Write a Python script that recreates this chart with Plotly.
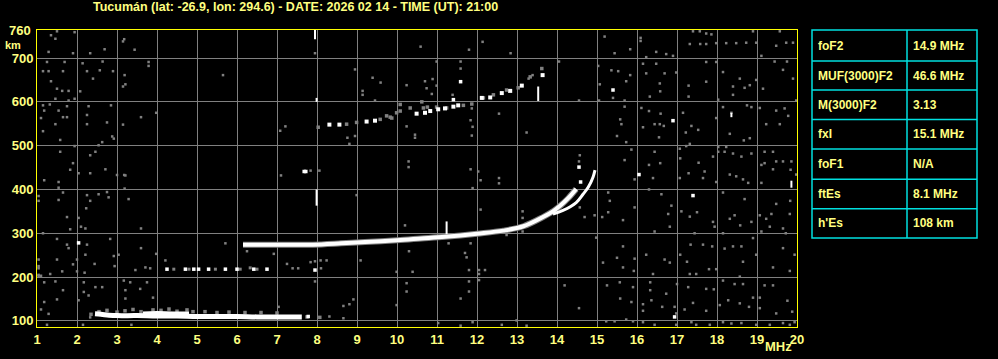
import plotly.graph_objects as go

# ---------------- data ----------------
title_text = "Tucumán (lat: -26.9, lon: 294.6) - DATE: 2026 02 14 - TIME (UT): 21:00"
x_ticks = list(range(1, 21))
y_ticks = [100, 200, 300, 400, 500, 600, 700]
y_top_label = "760"
table_labels = ["foF2", "MUF(3000)F2", "M(3000)F2", "fxI", "foF1", "ftEs", "h'Es"]
table_values = ["14.9 MHz", "46.6 MHz", "3.13", "15.1 MHz", "N/A", "8.1 MHz", "108 km"]

# Sporadic E trace (MHz, km)
es_x = [2.45, 2.6, 2.8, 3.0, 3.5, 4.0, 4.5, 5.0, 5.5, 6.0, 6.5, 7.0, 7.4, 7.62]
es_y = [116, 115, 113, 112, 112, 111, 111, 110, 110, 110, 109, 109, 109, 109]
es_up_x = [3.65, 4.0, 4.4, 4.8]
es_up_y = [118, 119, 118, 118]
es_fringe_x = [2.35, 2.55, 2.75, 3.0, 3.2, 3.4, 3.6, 3.9, 4.1, 4.3, 4.5, 4.75, 4.9, 5.2, 5.5, 5.8, 6.2, 6.6, 7.0, 7.75, 8.07]
es_fringe_y = [115, 121, 124, 120, 123, 126, 121, 125, 124, 127, 122, 125, 121, 121, 119, 120, 119, 119, 118, 109, 108]
es2_x = [4.25, 4.71, 4.92, 5.04, 5.29, 5.71, 6.0, 6.42, 6.75]
es2_y = [218, 218, 218, 218, 218, 218, 218, 218, 218]
es2_gray_x = [4.42, 4.8, 5.46, 6.08, 6.33, 6.5]
es2_gray_y = [218, 218, 218, 218, 221, 218]

# F2 trace (ordinary, upper branch) and extraordinary branch
f2o_x = [6.15, 6.6, 7.0, 7.5, 7.9, 8.6, 9.2, 10.0, 10.6, 11.2, 12.0, 12.66, 13.16, 13.65, 13.9, 14.07, 14.28, 14.48]
f2o_y = [274, 274, 274, 274, 274, 277, 280, 284, 288, 292, 299, 306, 316, 337, 350, 362, 380, 401]
f2x_x = [13.9, 14.15, 14.48, 14.65, 14.78, 14.9, 14.95]
f2x_y = [344, 352, 370, 389, 405, 428, 444]

# second hop F2 (2F)
f2b_white_x = [8.31, 8.56, 9.24, 9.45, 10.49, 10.7, 10.83, 11.03, 11.2, 11.41, 11.53, 12.12, 12.33, 12.62, 12.83, 13.12, 13.64]
f2b_white_y = [548, 548, 555, 557, 573, 575, 579, 583, 585, 589, 592, 609, 610, 620, 625, 637, 661]
f2b_gray_x = [8.03, 8.74, 8.99, 9.58, 9.74, 9.83, 9.87, 9.99, 10.08, 10.08, 10.33, 10.62, 10.66, 10.76, 10.99, 11.24, 11.66, 11.87, 12.16, 12.41, 12.74, 13.03, 13.33, 13.62]
f2b_gray_y = [542, 549, 553, 560, 568, 565, 563, 575, 579, 594, 586, 600, 586, 588, 588, 586, 592, 595, 609, 616, 627, 632, 657, 676]

# vertical white spikes: frequency, lower km, upper km
spike_x = [7.95, 7.99, 7.99, 11.24, 13.53, 19.86, 18.36]
spike_lo = [743, 600, 363, 298, 602, 404, 565]
spike_hi = [764, 609, 400, 327, 635, 420, 575]

# isolated white echoes
white_x = [2.04, 7.68, 7.72, 7.95, 11.41, 11.59, 15.4, 16.9, 16.05, 17.4, 16.94, 14.55, 14.59, 7.78]
white_y = [278, 441, 441, 216, 605, 646, 627, 557, 434, 386, 109, 451, 417, 110]

# gray background noise (MHz, km)
noise_x = [
    1.35, 1.5, 1.94, 1.46, 1.29, 1.9, 1.25, 1.69, 1.15, 1.29, 1.65, 2.14, 2.25, 2.64, 2.57, 2.9, 2.4, 1.35, 1.5, 1.63,
    1.79, 2.08, 1.46, 1.94, 1.79, 1.15, 1.32, 1.18, 1.54, 1.75, 2.29, 2.25, 1.65, 1.75, 1.1, 1.46, 1.15, 2.25, 2.75, 2.85,
    2.88, 2.92, 1.58, 2.63, 2.54, 1.94, 1.58, 2.33, 2.46, 1.9, 1.83, 2.04, 2.33, 2.71, 1.18, 1.54, 3.0, 3.18, 1.54, 1.65,
    2.25, 2.54, 2.75, 2.79, 1.04, 1.54, 1.04, 2.33, 3.29, 2.23, 1.75, 2.04, 1.83, 2.1, 2.21, 1.15, 1.5, 1.75, 1.79, 2.25,
    2.83, 3.04, 2.92, 2.21, 2.0, 1.5, 1.9, 2.0, 2.19, 2.44, 2.94, 1.33, 1.04, 1.04, 1.1, 1.63, 1.18, 1.46, 1.65, 2.17,
    2.17, 2.29, 2.46, 2.63, 2.04, 3.17, 3.21, 3.21, 3.33, 3.58, 3.75, 3.9, 1.18, 1.5, 1.1, 1.29, 2.33, 1.25, 2.15, 3.36,
    3.6, 3.71, 3.83, 3.98, 4.21, 3.6, 3.46, 3.18, 3.44, 2.69, 2.33, 3.15, 3.79, 3.79, 3.19, 3.15, 3.21, 3.6, 3.98, 3.15,
    7.08, 7.21, 7.1, 3.19, 3.21, 7.04, 6.92, 7.25, 6.25, 7.04, 5.65, 5.71, 1.04, 1.04, 1.04,
    7.95, 8.95, 9.39, 9.59, 9.14, 9.14, 9.45, 10.59, 10.99, 11.59, 11.59, 11.8, 12.14, 12.84, 10.24, 10.7, 10.89, 10.74,
    10.99, 10.87, 11.39, 11.87, 11.89, 11.87, 11.84, 12.55, 13.24, 10.24, 10.45, 10.45, 8.76, 8.95, 8.81, 13.29, 13.39,
    10.29, 10.29, 11.84, 12.03, 12.09, 12.55, 12.55, 11.89, 8.99, 12.09, 10.2, 13.14, 13.14, 13.14, 12.74, 11.29, 11.84,
    10.3, 9.09, 7.84, 7.95, 8.09, 8.24, 7.39, 7.53, 8.1, 9.99, 10.39, 11.7, 11.74, 11.8, 12.05, 12.2, 12.05, 12.05, 7.95,
    10.24, 10.24, 11.8, 11.8, 8.91, 8.81, 8.66, 9.99, 11.59, 8.31, 8.66, 11.03, 11.89, 12.99, 13.24, 12.62, 11.59, 8.06, 7.84,
    15.19, 15.44, 15.83, 16.09, 16.09, 16.48, 16.73, 16.9, 16.23, 17.4, 17.57, 17.73, 17.86, 17.32, 17.58, 17.73, 17.98,
    18.23, 18.48, 18.73, 18.9, 18.98, 19.11, 19.48, 19.57, 19.73, 19.9, 14.05, 15.03, 15.36, 15.53, 15.07, 15.4, 15.73,
    15.83, 16.15, 16.23, 16.48, 16.69, 16.57, 16.58, 16.32, 16.98, 17.29, 17.29, 17.73, 17.73, 17.98, 18.15, 18.4, 18.4,
    18.57, 18.69, 18.82, 18.98, 19.15, 19.44, 19.65, 19.75, 19.9, 19.98, 14.55, 15.05, 15.69, 15.69, 15.58, 15.61, 15.5,
    15.73, 16.11, 16.3, 16.15, 16.44, 16.57, 16.67, 16.55, 16.59, 17.15, 17.22, 17.36, 17.53, 17.32, 17.23, 18.03, 18.15,
    17.98, 18.36, 18.32, 18.75, 18.86, 19.07, 19.23, 19.48, 19.69, 19.78, 19.57, 18.67, 18.82, 18.03, 18.23, 14.57, 14.55,
    15.69, 15.86, 16.3, 16.44, 16.58, 17.07, 17.08, 17.29, 17.54, 17.69, 17.9, 18.03, 18.19, 18.4, 18.61, 18.86, 19.19,
    19.4, 19.48, 19.65, 19.86, 19.11, 19.19, 19.4, 19.84, 15.94, 16.4, 17.07, 17.65, 17.98, 18.32, 18.48, 18.65, 18.78,
    19.11, 19.98, 14.57, 14.69, 14.94, 15.13, 15.28, 15.28, 15.32, 15.65, 15.94, 16.3, 16.61, 16.78, 16.86, 17.11, 17.32,
    17.5, 17.9, 17.94, 18.15, 18.32, 18.44, 18.58, 18.86, 18.69, 19.07, 19.23, 19.36, 19.48, 19.83, 19.82, 19.72, 19.65,
    19.32, 19.11, 18.15, 17.44, 16.82, 16.44, 14.98, 15.65, 15.5, 15.15, 15.65, 15.92, 15.94, 16.23, 16.4, 16.69, 16.82,
    17.08, 17.25, 17.34, 17.65, 17.88, 18.19, 18.4, 18.61, 18.65, 18.57, 18.9, 18.98, 19.4, 19.82, 19.94, 19.65, 17.98,
    17.8, 17.32, 17.48, 14.19, 15.25, 15.57, 15.9, 16.33, 16.33, 16.73, 17.0, 17.28, 17.73, 17.92, 18.15, 18.44, 18.65,
    18.9, 19.19, 19.4, 19.07, 19.76, 19.88, 14.55, 15.58, 15.86, 16.15, 16.15, 16.36, 16.63, 16.94, 16.98, 17.19, 17.4,
    17.73, 18.07, 18.28, 18.57, 18.8, 19.07, 19.48, 15.23, 15.44, 15.73, 15.9, 16.15, 16.44, 16.98, 17.36, 17.48, 17.82,
    18.15, 18.36, 18.61, 18.98, 19.32, 19.65, 19.82, 19.94,
]
noise_y = [
    752, 761, 759, 744, 714, 711, 691, 691, 670, 670, 670, 688, 670, 692, 672, 670, 653, 647, 630, 625,
    625, 624, 607, 607, 603, 592, 594, 580, 580, 590, 590, 570, 565, 565, 563, 549, 533, 549, 553, 592,
    521, 516, 513, 508, 501, 499, 486, 478, 486, 460, 445, 437, 437, 446, 421, 417, 433, 433, 404, 393,
    387, 389, 394, 382, 385, 376, 374, 374, 378, 357, 337, 335, 309, 315, 311, 300, 287, 274, 266, 274,
    287, 251, 248, 251, 240, 240, 229, 213, 210, 230, 225, 207, 225, 203, 203, 213, 188, 190, 170, 188,
    166, 158, 177, 177, 147, 192, 170, 151, 188, 173, 188, 153, 143, 149, 126, 116, 108, 91, 91, 91,
    266, 222, 220, 253, 238, 311, 216, 743, 719, 720, 711, 738, 691, 682, 661, 635, 640, 565, 575, 548,
    534, 544, 432, 402, 432, 277, 253, 230, 259, 132, 661, 277, 240, 220, 205,
    711, 674, 655, 644, 625, 616, 603, 726, 692, 692, 676, 719, 737, 711, 638, 647, 652, 631,
    637, 618, 616, 585, 543, 523, 558, 573, 530, 544, 525, 518, 518, 522, 504, 653, 661,
    464, 451, 446, 441, 421, 426, 414, 403, 387, 354, 318, 350, 335, 304, 296, 277, 277,
    259, 238, 234, 236, 238, 238, 220, 220, 220, 212, 212, 255, 245, 216, 216, 216, 207, 193, 190,
    186, 167, 190, 167, 149, 138, 134, 136, 151, 110, 106, 95, 97, 101, 89, 91, 89, 443, 443,
    749, 711, 720, 746, 739, 714, 709, 705, 702, 761, 761, 756, 754, 732, 732, 732, 734,
    734, 734, 735, 761, 735, 705, 728, 761, 735, 735, 692, 682, 672, 670, 640, 609, 647,
    661, 687, 665, 687, 665, 642, 624, 612, 667, 637, 612, 691, 646, 691, 668, 635, 616,
    653, 632, 638, 650, 630, 692, 673, 692, 653, 603, 603, 603, 603, 589, 560, 549, 522,
    508, 586, 579, 542, 549, 549, 545, 519, 573, 575, 530, 545, 536, 504, 499, 605, 588,
    563, 575, 527, 592, 588, 586, 549, 580, 585, 568, 549, 512, 517, 497, 497, 478, 464,
    467, 491, 456, 486, 460, 493, 471, 437, 461, 441, 475, 486, 486, 482, 475, 482, 486,
    446, 464, 464, 464, 456, 460, 486, 445, 423, 426, 426, 426, 417, 434, 430, 423, 415,
    415, 434, 359, 337, 341, 337, 348, 393, 374, 330, 359, 400, 389, 344, 363, 350, 338,
    348, 326, 315, 393, 333, 341, 318, 326, 378, 341, 333, 344, 367, 374, 344, 300, 311,
    315, 304, 300, 300, 315, 304, 290, 270, 244, 233, 222, 214, 242, 251, 207, 240, 233,
    251, 235, 274, 274, 270, 265, 270, 270, 235, 201, 289, 251, 222, 214, 251, 266, 218,
    218, 207, 207, 181, 181, 188, 177, 188, 170, 162, 184, 177, 173, 172, 192, 184, 184,
    153, 181, 181, 153, 146, 121, 129, 151, 143, 138, 123, 147, 132, 132, 117, 126, 141,
    123, 136, 147, 140, 132, 129, 117, 99, 99, 103, 99, 97, 91, 91, 97, 91, 91,
    97, 94, 95, 91, 91, 95, 91, 97,
]

# ---------------- layout constants ----------------
W, H = 998, 359
L, R, T, B = 37, 201, 30, 26
PW, PH = W - L - R, H - T - B
YEL = "#ffff80"
AXIS_YEL = "#ffff00"
GRID = "#808080"
CYAN = "#00e0e0"
FONT = "Liberation Sans, Arial, sans-serif"


def px(x):
    return (x - L) / PW


def py(y):
    return (H - B - y) / PH


def sq(size, color):
    return dict(symbol="square", size=size, color=color, line=dict(width=0))


fig = go.Figure()

# background noise and gray fringes
fig.add_trace(go.Scatter(x=noise_x, y=noise_y, mode="markers", marker=sq(2.5, GRID), hoverinfo="skip"))
fig.add_trace(go.Scatter(x=es_fringe_x, y=es_fringe_y, mode="markers", marker=sq(3.5, GRID), hoverinfo="skip"))
fig.add_trace(go.Scatter(x=es2_gray_x, y=es2_gray_y, mode="markers", marker=sq(3, GRID), hoverinfo="skip"))
fig.add_trace(go.Scatter(x=f2b_gray_x, y=f2b_gray_y, mode="markers", marker=sq(3.5, GRID), hoverinfo="skip"))
fig.add_trace(go.Scatter(x=f2o_x, y=f2o_y, mode="lines",
                         line=dict(color=GRID, width=6, shape="spline"), hoverinfo="skip"))

# white echoes
fig.add_trace(go.Scatter(x=es_x, y=es_y, mode="lines",
                         line=dict(color="white", width=5, shape="spline"), hoverinfo="skip"))
fig.add_trace(go.Scatter(x=es_up_x, y=es_up_y, mode="lines",
                         line=dict(color="white", width=3), hoverinfo="skip"))
fig.add_trace(go.Scatter(x=es2_x, y=es2_y, mode="markers", marker=sq(3.5, "white"), hoverinfo="skip"))
fig.add_trace(go.Scatter(x=f2o_x, y=f2o_y, mode="lines",
                         line=dict(color="white", width=4, shape="spline"), hoverinfo="skip"))
fig.add_trace(go.Scatter(x=f2x_x, y=f2x_y, mode="lines",
                         line=dict(color="white", width=3, shape="spline"), hoverinfo="skip"))
fig.add_trace(go.Scatter(x=f2b_white_x, y=f2b_white_y, mode="markers", marker=sq(4, "white"), hoverinfo="skip"))
fig.add_trace(go.Scatter(x=white_x, y=white_y, mode="markers", marker=sq(3.5, "white"), hoverinfo="skip"))
sx, sy = [], []
for f, lo, hi in zip(spike_x, spike_lo, spike_hi):
    sx += [f, f, None]
    sy += [lo, hi, None]
fig.add_trace(go.Scatter(x=sx, y=sy, mode="lines", line=dict(color="white", width=2),
                         hoverinfo="skip", connectgaps=False))

tick_font = dict(family=FONT, size=13, color=YEL, weight="bold")
fig.update_layout(
    width=W, height=H,
    margin=dict(l=L, r=R, t=T, b=B, pad=0),
    paper_bgcolor="black", plot_bgcolor="black",
    showlegend=False,
    font=dict(family=FONT, color=YEL, size=13, weight="bold"),
    xaxis=dict(range=[1, 20], tickvals=x_ticks, ticktext=[str(v) for v in x_ticks],
               showgrid=True, gridcolor=GRID, gridwidth=1, zeroline=False,
               showline=True, linecolor=AXIS_YEL, linewidth=1, mirror=True, ticks="",
               tickfont=tick_font),
    yaxis=dict(range=[86, 764], tickvals=y_ticks, ticktext=[str(v) for v in y_ticks],
               showgrid=True, gridcolor=GRID, gridwidth=1, zeroline=False,
               showline=True, linecolor=AXIS_YEL, linewidth=1, mirror=True, ticks="",
               tickfont=tick_font),
)

ann = []
ann.append(dict(x=px(295), y=py(7), xref="paper", yref="paper", text=title_text, showarrow=False,
                xanchor="center", yanchor="middle",
                font=dict(family=FONT, size=12.5, color=YEL, weight="bold")))
ann.append(dict(x=px(33), y=py(31), xref="paper", yref="paper", text=y_top_label, showarrow=False,
                xanchor="right", yanchor="middle", font=tick_font))
ann.append(dict(x=px(13), y=py(45), xref="paper", yref="paper", text="km", showarrow=False,
                xanchor="center", yanchor="middle",
                font=dict(family=FONT, size=11, color=YEL, weight="bold")))
ann.append(dict(x=px(778), y=py(353), xref="paper", yref="paper", text="MHz", showarrow=False,
                xanchor="center", yanchor="middle", font=tick_font))

# parameter table
tx0, tx1, tx2 = 812, 907, 977
rows = [30, 61.7, 91.3, 121.3, 151.3, 182.3, 212.3, 242.3]
shapes = []
shapes.append(dict(type="rect", xref="paper", yref="paper", x0=px(tx0), x1=px(tx2),
                   y0=py(rows[0]), y1=py(rows[-1]), line=dict(color=CYAN, width=1.5)))
shapes.append(dict(type="line", xref="paper", yref="paper", x0=px(tx1), x1=px(tx1),
                   y0=py(rows[0]), y1=py(rows[-1]), line=dict(color=CYAN, width=1.5)))
for r in rows[1:-1]:
    shapes.append(dict(type="line", xref="paper", yref="paper", x0=px(tx0), x1=px(tx2),
                       y0=py(r), y1=py(r), line=dict(color=CYAN, width=1.5)))
cell_font = dict(family=FONT, size=12, color=YEL, weight="bold")
for i, (lab, val) in enumerate(zip(table_labels, table_values)):
    yc = (rows[i] + rows[i + 1]) / 2
    ann.append(dict(x=px(816), y=py(yc), xref="paper", yref="paper", text=lab, showarrow=False,
                    xanchor="left", yanchor="middle", font=cell_font))
    ann.append(dict(x=px(911), y=py(yc), xref="paper", yref="paper", text=val, showarrow=False,
                    xanchor="left", yanchor="middle", font=cell_font))

fig.update_layout(annotations=ann, shapes=shapes)
fig.write_html("out.html")
